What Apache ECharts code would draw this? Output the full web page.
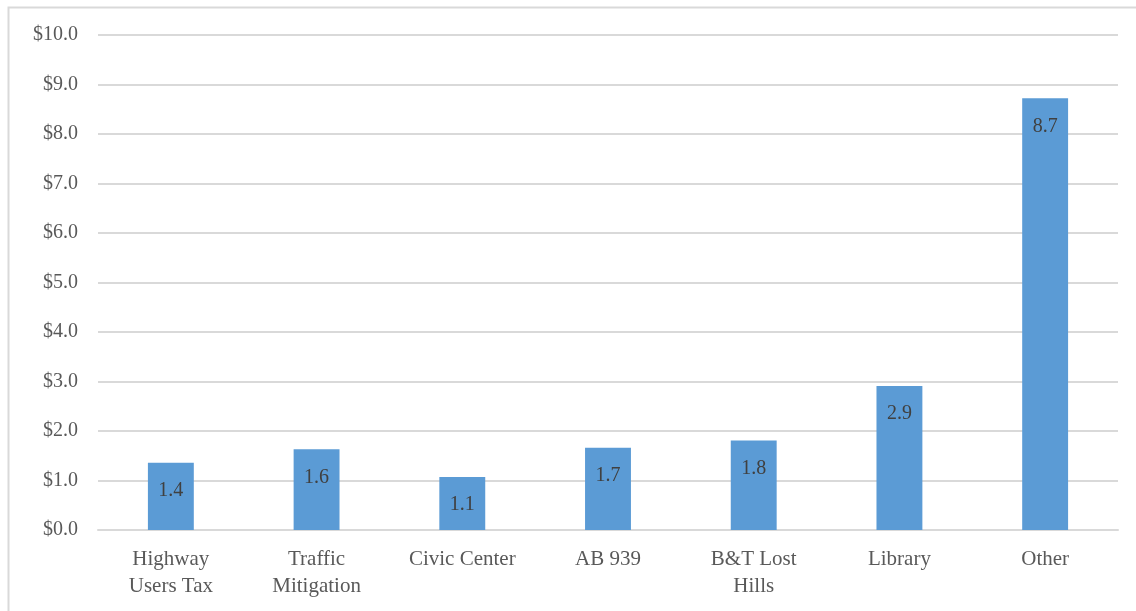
<!DOCTYPE html>
<html>
<head>
<meta charset="utf-8">
<script src="https://cdn.jsdelivr.net/npm/echarts@6/dist/echarts.min.js"></script>
<style>
  html, body { margin: 0; padding: 0; background: #fff; }
  #chart { width: 1136px; height: 611px; }
</style>
</head>
<body>
<div id="chart"></div>
<script>
// categories and values ($ millions)
const categories = ['Highway\nUsers Tax', 'Traffic\nMitigation', 'Civic Center', 'AB 939', 'B&T Lost\nHills', 'Library', 'Other'];
const values = [1.36, 1.63, 1.07, 1.66, 1.81, 2.91, 8.72];
const yTicks = { min: 0, max: 10, interval: 1 };

const chart = echarts.init(document.getElementById('chart'));

chart.setOption({
  animation: false,
  textStyle: { fontFamily: 'Liberation Serif' },
  graphic: [{
    type: 'rect',
    left: 6,
    top: 5,
    shape: { width: 1200, height: 700 },
    style: { fill: 'none', stroke: '#d9d9d9', lineWidth: 2 },
    silent: true
  }],
  grid: {
    left: 98,
    right: 18,
    top: 35,
    bottom: 81
  },
  xAxis: {
    type: 'category',
    data: categories,
    axisLine: { lineStyle: { color: '#d9d9d9', width: 2 } },
    axisTick: { show: false },
    axisLabel: {
      color: '#595959',
      fontSize: 21,
      lineHeight: 27,
      margin: 16,
      interval: 0
    }
  },
  yAxis: {
    type: 'value',
    min: yTicks.min,
    max: yTicks.max,
    interval: yTicks.interval,
    axisLine: { show: false },
    axisTick: { show: false },
    splitLine: { lineStyle: { color: '#d9d9d9', width: 2 } },
    axisLabel: {
      color: '#595959',
      fontSize: 20,
      margin: 20,
      formatter: v => '$' + v.toFixed(1)
    }
  },
  series: [{
    type: 'bar',
    data: values,
    barWidth: '31.5%',
    itemStyle: { color: '#5b9bd5' },
    label: {
      show: true,
      position: 'insideTop',
      distance: 18,
      color: '#404040',
      fontSize: 20,
      formatter: p => p.value.toFixed(1)
    }
  }]
});
</script>
</body>
</html>
